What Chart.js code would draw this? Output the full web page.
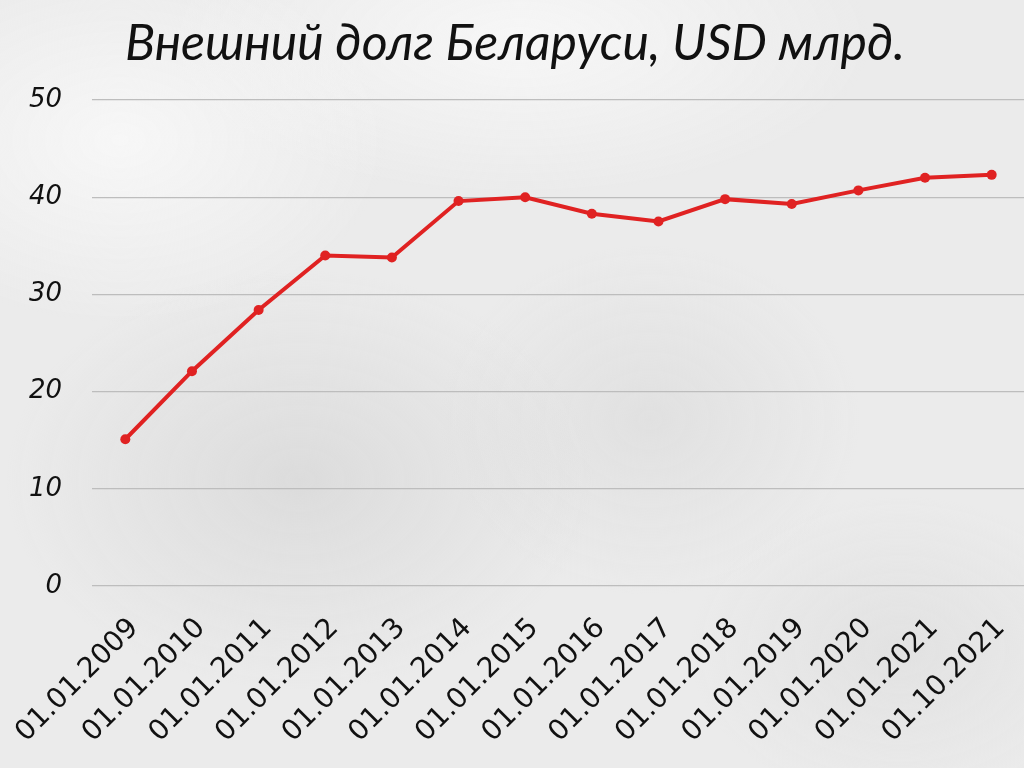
<!DOCTYPE html>
<html>
<head>
<meta charset="utf-8">
<script src="https://cdn.jsdelivr.net/npm/chart.js@4/dist/chart.umd.min.js"></script>
<style>
  html, body { margin: 0; padding: 0; width: 1024px; height: 768px; overflow: hidden; }
  body {
    background-color: #ebebeb;
    background-image:
      radial-gradient(ellipse 420px 300px at 300px 480px, rgba(205,205,205,0.5), rgba(205,205,205,0) 70%),
      radial-gradient(ellipse 300px 250px at 650px 420px, rgba(212,212,212,0.45), rgba(212,212,212,0) 70%),
      radial-gradient(ellipse 380px 260px at 120px 140px, rgba(250,250,250,0.8), rgba(250,250,250,0) 70%),
      radial-gradient(ellipse 300px 220px at 900px 650px, rgba(215,215,215,0.45), rgba(215,215,215,0) 70%),
      radial-gradient(ellipse 500px 220px at 520px 40px, rgba(248,248,248,0.9), rgba(248,248,248,0) 70%);
  }
  #wrap { position: absolute; left: 0; top: 0; width: 1030px; height: 768px; }
</style>
</head>
<body>
<div id="wrap"><canvas id="c" width="1030" height="768"></canvas></div>
<script>
const categories = ["01.01.2009","01.01.2010","01.01.2011","01.01.2012","01.01.2013","01.01.2014","01.01.2015","01.01.2016","01.01.2017","01.01.2018","01.01.2019","01.01.2020","01.01.2021","01.10.2021"];
const debtValues = [15.1, 22.1, 28.4, 34.0, 33.8, 39.6, 40.0, 38.3, 37.5, 39.8, 39.3, 40.7, 42.0, 42.3];
const yTicks = [0, 10, 20, 30, 40, 50];
const titleText = "Внешний долг Беларуси, USD млрд.";

new Chart(document.getElementById('c'), {
  type: 'line',
  data: {
    labels: categories,
    datasets: [{
      data: debtValues,
      borderColor: '#e02222',
      backgroundColor: '#e02222',
      borderWidth: 4,
      pointRadius: 5,
      pointBackgroundColor: '#e02222',
      pointBorderWidth: 0,
      tension: 0
    }]
  },
  options: {
    responsive: false,
    animation: false,
    layout: { padding: { top: 0, right: 0, bottom: 0, left: 0 } },
    plugins: {
      legend: { display: false },
      tooltip: { enabled: false },
      title: {
        display: true,
        text: titleText,
        color: '#111',
        font: { family: 'Lato', size: 50, style: 'italic', weight: 'normal', lineHeight: 1.2 },
        padding: { top: 14, bottom: 26 }
      }
    },
    scales: {
      x: {
        offset: true,
        grid: { display: false, drawTicks: false },
        border: { display: false },
        ticks: {
          color: '#111',
          font: { family: 'DejaVu Sans', size: 28 },
          minRotation: 45,
          maxRotation: 45,
          autoSkip: false,
          padding: 26,
          labelOffset: 9
        },
        afterFit: s => { s.height = 182; s.paddingLeft = 0; s.paddingRight = 0; }
      },
      y: {
        min: 0,
        max: 50,
        afterBuildTicks: s => { s.ticks = yTicks.map(v => ({ value: v })); },
        grid: { color: '#bdbdbd', lineWidth: 1.2, drawTicks: false },
        border: { display: false },
        ticks: {
          color: '#111',
          font: { family: 'DejaVu Sans', size: 26, style: 'italic' },
          padding: 30
        },
        afterFit: s => { s.width = 92; s.paddingTop = 0; s.paddingBottom = 0; }
      }
    }
  }
});
</script>
</body>
</html>
